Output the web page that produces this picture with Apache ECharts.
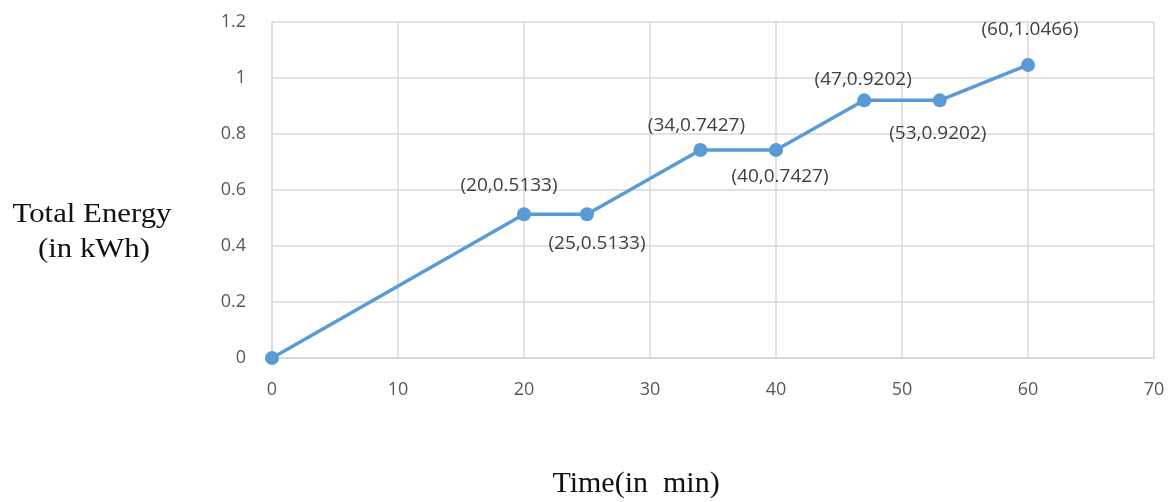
<!DOCTYPE html>
<html>
<head>
<meta charset="utf-8">
<script src="https://cdn.jsdelivr.net/npm/echarts@6/dist/echarts.min.js"></script>
<style>
  html, body { margin: 0; padding: 0; background: #fff; }
  #chart { width: 1174px; height: 502px; }
</style>
</head>
<body>
<div id="chart"></div>
<script>
// Measured energy over time
const timeMin = [0, 20, 25, 34, 40, 47, 53, 60];
const energyKWh = [0, 0.5133, 0.5133, 0.7427, 0.7427, 0.9202, 0.9202, 1.0466];
const xTicks = [0, 10, 20, 30, 40, 50, 60, 70];
const yTicks = [0, 0.2, 0.4, 0.6, 0.8, 1.0, 1.2];

// label placement for each point (offsets in px relative to the marker)
const labelOffsets = [null, [-15, -29], [10, 29], [-4, -24], [4, 27], [-1, -21], [-2, 33], [2, -35]];

const fmt = v => (v === 0 ? '0' : String(v));

const data = timeMin.map((t, i) => {
  const item = { value: [t, energyKWh[i]] };
  const off = labelOffsets[i];
  if (off) {
    item.label = {
      show: true,
      position: 'inside',
      offset: off,
      formatter: '(' + t + ',' + energyKWh[i].toFixed(4) + ')'
    };
  }
  return item;
});

const gridColor = '#d9d9d9';

const chart = echarts.init(document.getElementById('chart'));
chart.setOption({
  animation: false,
  grid: { left: 272, right: 20, top: 22, bottom: 144, containLabel: false },
  xAxis: {
    type: 'value',
    min: xTicks[0],
    max: xTicks[xTicks.length - 1],
    interval: 10,
    axisLine: { show: true, lineStyle: { color: gridColor, width: 2 } },
    axisTick: { show: false },
    splitLine: { show: true, lineStyle: { color: gridColor, width: 1.5 } },
    axisLabel: { color: '#595959', fontSize: 18, fontFamily: 'Open Sans', margin: 23 }
  },
  yAxis: {
    type: 'value',
    min: yTicks[0],
    max: yTicks[yTicks.length - 1],
    interval: 0.2,
    axisLine: { show: true, lineStyle: { color: gridColor, width: 1.5 } },
    axisTick: { show: false },
    splitLine: { show: true, lineStyle: { color: gridColor, width: 1.5 } },
    axisLabel: {
      color: '#595959', fontSize: 18, fontFamily: 'Open Sans', margin: 26,
      formatter: v => fmt(Math.round(v * 10) / 10)
    }
  },
  series: [{
    type: 'line',
    data: data,
    symbol: 'circle',
    symbolSize: 14,
    lineStyle: { color: '#5b9bd5', width: 3.5 },
    itemStyle: { color: '#5b9bd5' },
    label: { color: '#404040', fontSize: 19, fontFamily: 'Open Sans' }
  }],
  graphic: [
    {
      type: 'text', x: 92, y: 215, scaleX: 1.1,
      style: {
        text: 'Total Energy', fill: '#111', font: '28px "Liberation Serif"',
        align: 'center', verticalAlign: 'middle'
      }
    },
    {
      type: 'text', x: 94, y: 250, scaleX: 1.1,
      style: {
        text: '(in kWh)', fill: '#111', font: '28px "Liberation Serif"',
        align: 'center', verticalAlign: 'middle'
      }
    },
    {
      type: 'text', x: 636, y: 484,
      style: {
        text: 'Time(in  min)', fill: '#111', font: '30px "Liberation Serif"',
        align: 'center', verticalAlign: 'middle'
      }
    }
  ]
});
</script>
</body>
</html>
